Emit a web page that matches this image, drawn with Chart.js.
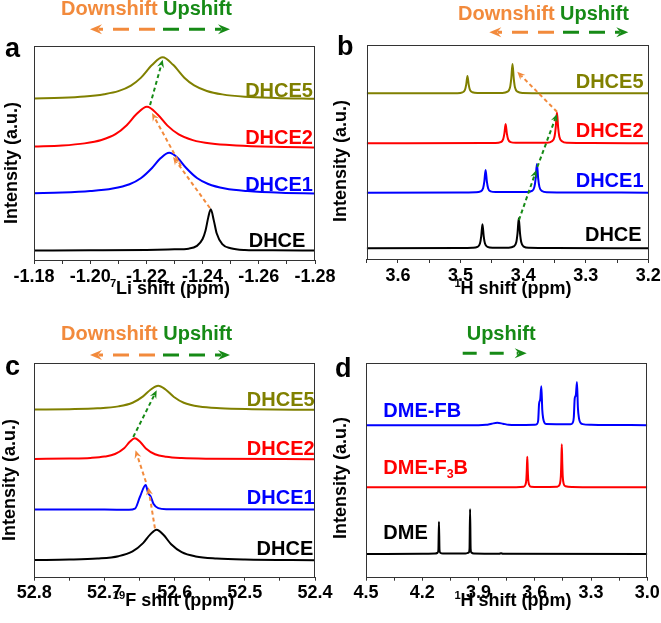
<!DOCTYPE html>
<html>
<head>
<meta charset="utf-8">
<script src="https://cdn.jsdelivr.net/npm/chart.js@4.4.0/dist/chart.umd.min.js"></script>
<style>
  html, body { margin: 0; padding: 0; background: #fff; }
  #wrap { position: relative; width: 661px; height: 623px; overflow: hidden; }
  canvas { position: absolute; }
</style>
</head>
<body>
<div id="wrap">
  <canvas id="panel-a" width="345" height="310" style="left:0;top:0"></canvas>
  <canvas id="panel-b" width="331" height="310" style="left:330px;top:0"></canvas>
  <canvas id="panel-c" width="345" height="313" style="left:0;top:310px"></canvas>
  <canvas id="panel-d" width="331" height="313" style="left:330px;top:310px"></canvas>
</div>
<script>
const FONT = 'Arial, "Liberation Sans", Helvetica, sans-serif';
const ORANGE = '#f28a3c';
const GREEN = '#168a16';
const OLIVE = '#808000';

// ---- panel a: 7Li spectra, [ppm, intensity] ----
const liDHCE  = [[-1.18,4.4],[-1.20,4.5],[-1.22,4.7],[-1.23,5.0],[-1.235,5.3],[-1.238,6.6],[-1.240,9.8],[-1.241,13.5],[-1.242,19.8],[-1.2429,23.7],[-1.244,18.4],[-1.245,12.5],[-1.247,7.4],[-1.250,5.5],[-1.255,4.7],[-1.265,4.5],[-1.28,4.4]];
const liDHCE1 = [[-1.18,31.2],[-1.19,31.5],[-1.20,32.2],[-1.208,33.4],[-1.214,35.4],[-1.218,38.2],[-1.222,43.0],[-1.225,47.5],[-1.2281,50.1],[-1.231,47.9],[-1.234,43.2],[-1.238,38.3],[-1.242,35.5],[-1.248,33.4],[-1.256,32.2],[-1.268,31.4],[-1.28,31.1]];
const liDHCE2 = [[-1.18,53.0],[-1.19,53.5],[-1.198,54.5],[-1.204,56.1],[-1.209,58.8],[-1.213,63.0],[-1.2165,68.2],[-1.2202,71.6],[-1.224,68.0],[-1.2275,62.8],[-1.2315,58.7],[-1.2365,56.0],[-1.243,54.4],[-1.252,53.5],[-1.265,52.9],[-1.28,52.6]];
const liDHCE5 = [[-1.18,75.5],[-1.19,75.8],[-1.198,76.4],[-1.205,77.5],[-1.21,78.9],[-1.2145,81.5],[-1.218,85.1],[-1.222,91.1],[-1.2258,94.7],[-1.2295,91.2],[-1.2335,85.2],[-1.237,81.6],[-1.2415,79.0],[-1.247,77.4],[-1.255,76.3],[-1.266,75.7],[-1.28,75.3]];
const liTicks = [-1.18,-1.19,-1.20,-1.21,-1.22,-1.23,-1.24,-1.25,-1.26,-1.27,-1.28];
const liTickLabels = ['-1.18','','-1.20','','-1.22','','-1.24','','-1.26','','-1.28'];

// ---- panel b: 1H spectra of DHCE series ----
const hDHCE  = [[3.65,5.0],[3.50,5.1],[3.481,5.2],[3.473,5.7],[3.469,7.2],[3.467,10.6],[3.465,16.2],[3.463,10.6],[3.461,7.2],[3.457,5.7],[3.449,5.3],[3.423,5.3],[3.415,5.9],[3.411,7.8],[3.409,12.0],[3.407,19.0],[3.405,12.0],[3.403,7.8],[3.399,5.8],[3.391,5.2],[3.35,5.1],[3.2,5.0]];
const hDHCE1 = [[3.65,31.0],[3.50,31.1],[3.476,31.2],[3.468,31.6],[3.464,33.1],[3.462,36.3],[3.460,41.6],[3.458,36.3],[3.456,33.1],[3.452,31.6],[3.444,31.3],[3.394,31.3],[3.386,31.8],[3.382,33.7],[3.380,37.7],[3.378,44.4],[3.376,37.7],[3.374,33.7],[3.370,31.8],[3.362,31.2],[3.32,31.1],[3.2,31.0]];
const hDHCE2 = [[3.65,54.1],[3.46,54.2],[3.444,54.2],[3.436,54.6],[3.432,55.9],[3.430,58.6],[3.428,63.1],[3.426,58.6],[3.424,55.9],[3.420,54.6],[3.412,54.3],[3.362,54.3],[3.354,55.0],[3.350,57.0],[3.348,61.3],[3.346,68.4],[3.344,61.3],[3.342,57.0],[3.338,55.0],[3.330,54.3],[3.29,54.2],[3.2,54.1]];
const hDHCE5 = [[3.65,77.4],[3.52,77.5],[3.505,77.5],[3.497,77.9],[3.493,79.0],[3.491,81.5],[3.489,85.5],[3.487,81.5],[3.485,79.0],[3.481,77.9],[3.473,77.6],[3.433,77.6],[3.425,78.2],[3.421,80.1],[3.419,84.3],[3.417,91.1],[3.415,84.3],[3.413,80.1],[3.409,78.2],[3.401,77.6],[3.36,77.5],[3.2,77.4]];
const hTicks = [3.65,3.6,3.55,3.5,3.45,3.4,3.35,3.3,3.25,3.2];
const hTickLabels = ['','3.6','','3.5','','3.4','','3.3','','3.2'];

// ---- panel c: 19F spectra ----
const fDHCE  = [[52.80,7.8],[52.75,8.0],[52.71,8.5],[52.68,9.6],[52.66,11.8],[52.645,15.7],[52.635,19.7],[52.6256,22.0],[52.616,19.6],[52.605,15.2],[52.59,11.5],[52.57,9.5],[52.54,8.5],[52.50,8.0],[52.40,7.7]];
const fDHCE1 = [[52.80,31.4],[52.70,31.4],[52.665,31.3],[52.6566,31.8],[52.6494,37.4],[52.6413,42.9],[52.6376,39.0],[52.6342,37.6],[52.6300,34.0],[52.6234,32.1],[52.612,31.6],[52.40,31.5]];
const fDHCE2 = [[52.80,55.1],[52.75,55.3],[52.72,55.6],[52.70,56.2],[52.685,57.4],[52.672,60.1],[52.664,63.1],[52.6566,64.8],[52.649,63.0],[52.641,60.0],[52.628,57.3],[52.612,56.1],[52.59,55.5],[52.55,55.2],[52.40,55.0]];
const fDHCE5 = [[52.80,78.2],[52.75,78.4],[52.71,78.8],[52.68,79.7],[52.66,81.4],[52.645,84.4],[52.634,87.6],[52.6234,89.4],[52.613,87.6],[52.601,84.1],[52.587,81.4],[52.565,79.6],[52.535,78.8],[52.49,78.4],[52.40,78.1]];
const fTicks = [52.8,52.75,52.7,52.65,52.6,52.55,52.5,52.45,52.4];
const fTickLabels = ['52.8','','52.7','','52.6','','52.5','','52.4'];

// ---- panel d: 1H spectra of DME series ----
const dDME   = [[4.50,10.6],[4.20,10.7],[4.13,10.8],[4.118,11.2],[4.114,12.5],[4.111,25.7],[4.108,12.5],[4.104,11.2],[4.09,10.8],[3.97,10.8],[3.952,11.3],[3.948,13.0],[3.945,31.6],[3.942,13.0],[3.938,11.3],[3.925,10.8],[3.79,10.7],[3.78,11.0],[3.77,10.7],[3.0,10.6]];
const dDMEF3B = [[4.50,41.8],[3.70,41.9],[3.66,42.1],[3.65,43.0],[3.645,45.5],[3.6425,50.2],[3.640,56.1],[3.6375,50.2],[3.635,45.5],[3.630,43.0],[3.620,42.1],[3.58,42.0],[3.48,42.1],[3.476,42.3],[3.466,43.5],[3.461,47.1],[3.4585,53.7],[3.456,62.0],[3.4535,53.7],[3.451,47.1],[3.446,43.5],[3.436,42.3],[3.40,42.0],[3.0,41.8]];
const dDMEFB = [[4.50,70.9],[3.90,70.9],[3.86,71.1],[3.83,71.6],[3.80,72.0],[3.77,71.6],[3.74,71.1],[3.70,71.0],[3.60,71.1],[3.588,71.5],[3.582,73.0],[3.577,81.0],[3.571,83.0],[3.565,89.1],[3.560,78.0],[3.555,74.0],[3.548,72.0],[3.54,71.4],[3.41,71.3],[3.398,72.0],[3.392,74.5],[3.387,83.4],[3.381,85.0],[3.375,91.1],[3.370,79.0],[3.364,74.0],[3.356,72.0],[3.345,71.4],[3.30,71.1],[3.0,70.9]];
const dTicks = [4.5,4.35,4.2,4.05,3.9,3.75,3.6,3.45,3.3,3.15,3.0];
const dTickLabels = ['4.5','','4.2','','3.9','','3.6','','3.3','','3.0'];

// curve labels: [ppm, intensity, text parts, colour]
const liLabels = [[-1.2672,79.4,[{t:'DHCE5'}],OLIVE],[-1.2672,57.6,[{t:'DHCE2'}],'#ff0000'],[-1.2672,35.8,[{t:'DHCE1'}],'#0000ff'],[-1.2665,9.5,[{t:'DHCE'}],'#000']];
const hLabels  = [[3.2618,83.5,[{t:'DHCE5'}],OLIVE],[3.2618,60.3,[{t:'DHCE2'}],'#ff0000'],[3.2618,36.9,[{t:'DHCE1'}],'#0000ff'],[3.2559,11.7,[{t:'DHCE'}],'#000']];
const fLabels  = [[52.4488,83.2,[{t:'DHCE5'}],OLIVE],[52.4488,60.5,[{t:'DHCE2'}],'#ff0000'],[52.4488,37.4,[{t:'DHCE1'}],'#0000ff'],[52.4429,13.7,[{t:'DHCE'}],'#000']];
const dLabels  = [[4.4077,78.3,[{t:'DME-FB'}],'#0000ff'],[4.4077,51.4,[{t:'DME-F'},{t:'3',s:'sub'},{t:'B'}],'#ff0000'],[4.4077,21.0,[{t:'DME'}],'#000']];

// peak-shift arrows: [from ppm, from int, to ppm, to int, colour]
const liArrows = [[-1.2426,24.3,-1.2295,48.1,ORANGE],[-1.2323,43.9,-1.2220,68.7,ORANGE],[-1.2213,72.4,-1.2258,93.6,GREEN]];
const hArrows  = [[3.4067,18.2,3.3789,41.6,GREEN],[3.3773,43.0,3.3459,67.8,GREEN],[3.3459,68.8,3.4094,87.5,ORANGE]];
const fArrows  = [[52.6281,22.6,52.6376,41.9,ORANGE],[52.6409,44.3,52.6558,59.2,ORANGE],[52.659,65.4,52.6256,87.2,GREEN]];
const dArrows  = [];

const panels = [
  { id: 'panel-a', w: 345, h: 310, area: {l: 34, r: 315, t: 46, b: 260}, min: -1.28, max: -1.18,
    ticks: liTicks, tickLabels: liTickLabels, labelAlign: 'center',
    series: [[liDHCE,'#000'],[liDHCE1,'#0000ff'],[liDHCE2,'#ff0000'],[liDHCE5,OLIVE]],
    labels: liLabels, arrows: liArrows, letter: ['a', 5, 57],
    yTitle: [12, 163], xTitle: [[{t:'7',s:'sup'},{t:'Li shift (ppm)'}], 170, 294],
    header: {down: [61, 15], up: [163, 15], y: 29.3, o: [155, 90], g: [163, 230], dash: [16, 10]} },
  { id: 'panel-b', w: 331, h: 310, area: {l: 36.7, r: 318.3, t: 45, b: 259}, min: 3.2, max: 3.65,
    ticks: hTicks, tickLabels: hTickLabels, labelAlign: 'center',
    series: [[hDHCE,'#000'],[hDHCE1,'#0000ff'],[hDHCE2,'#ff0000'],[hDHCE5,OLIVE]],
    labels: hLabels, arrows: hArrows, letter: ['b', 7, 55],
    yTitle: [11.5, 161], xTitle: [[{t:'1',s:'sup'},{t:'H shift (ppm)'}], 183, 294],
    header: {down: [128, 20], up: [230, 20], y: 32.3, o: [224, 159.3], g: [233, 298.3], dash: [16, 10]} },
  { id: 'panel-c', w: 345, h: 313, area: {l: 34.3, r: 315, t: 53, b: 266.7}, min: 52.4, max: 52.8,
    ticks: fTicks, tickLabels: fTickLabels, labelAlign: 'center',
    series: [[fDHCE,'#000'],[fDHCE1,'#0000ff'],[fDHCE2,'#ff0000'],[fDHCE5,OLIVE]],
    labels: fLabels, arrows: fArrows, letter: ['c', 5, 65],
    yTitle: [10, 170], xTitle: [[{t:'19',s:'sup'},{t:'F shift (ppm)'}], 173.5, 296],
    header: {down: [61, 30], up: [163.3, 30], y: 45, o: [155, 90], g: [163, 230], dash: [16, 10]} },
  { id: 'panel-d', w: 331, h: 313, area: {l: 36, r: 317.3, t: 53, b: 266.7}, min: 3.0, max: 4.5,
    ticks: dTicks, tickLabels: dTickLabels, labelAlign: 'left',
    series: [[dDME,'#000'],[dDMEF3B,'#ff0000'],[dDMEFB,'#0000ff']],
    labels: dLabels, arrows: dArrows, letter: ['d', 5, 67],
    yTitle: [11.5, 168], xTitle: [[{t:'1',s:'sup'},{t:'H shift (ppm)'}], 183, 296],
    header: {down: null, up: [136.7, 29.5], y: 43.3, o: null, g: [132.7, 196.7], dash: [14, 13]} }
];

function drawArrow(ctx, x1, y1, x2, y2, color, width, dash, len, half) {
  const ang = Math.atan2(y2 - y1, x2 - x1), c = Math.cos(ang), s = Math.sin(ang);
  ctx.save();
  ctx.strokeStyle = color;
  ctx.fillStyle = color;
  ctx.lineWidth = width;
  ctx.setLineDash(dash);
  ctx.beginPath();
  ctx.moveTo(x1, y1);
  ctx.lineTo(x2 - c * len * 0.7, y2 - s * len * 0.7);
  ctx.stroke();
  ctx.setLineDash([]);
  ctx.beginPath();
  ctx.moveTo(x2, y2);
  ctx.lineTo(x2 - c * len - s * half, y2 - s * len + c * half);
  ctx.lineTo(x2 - c * len * 0.65, y2 - s * len * 0.65);
  ctx.lineTo(x2 - c * len + s * half, y2 - s * len - c * half);
  ctx.closePath();
  ctx.fill();
  ctx.restore();
}

// text with superscript / subscript pieces; y is the baseline
function drawRich(ctx, parts, x, y, size, color, align) {
  const fonts = parts.map(p => 'bold ' + (p.s ? size * 0.62 : size) + 'px ' + FONT);
  let total = 0;
  const widths = parts.map((p, i) => {
    ctx.font = fonts[i];
    const w = ctx.measureText(p.t).width;
    total += w;
    return w;
  });
  let cx = align === 'center' ? x - total / 2 : (align === 'right' ? x - total : x);
  ctx.save();
  ctx.fillStyle = color;
  ctx.textAlign = 'left';
  ctx.textBaseline = 'alphabetic';
  parts.forEach((p, i) => {
    ctx.font = fonts[i];
    const dy = p.s === 'sup' ? -size * 0.38 : (p.s === 'sub' ? size * 0.22 : 0);
    ctx.fillText(p.t, cx, y + dy);
    cx += widths[i];
  });
  ctx.restore();
}

function makeDecor(p) {
  return {
    id: 'decor',
    afterDatasetsDraw(chart) {
      const ctx = chart.ctx, xs = chart.scales.x, ys = chart.scales.y;
      p.arrows.forEach(a => {
        drawArrow(ctx, xs.getPixelForValue(a[0]), ys.getPixelForValue(a[1]),
          xs.getPixelForValue(a[2]), ys.getPixelForValue(a[3]), a[4], 2, [4, 3], 8, 3.5);
      });
      p.labels.forEach(l => {
        drawRich(ctx, l[2], xs.getPixelForValue(l[0]), ys.getPixelForValue(l[1]) + 20 * 0.36, 20, l[3], p.labelAlign);
      });
    },
    afterDraw(chart) {
      const ctx = chart.ctx, a = chart.chartArea;
      // frame
      ctx.save();
      ctx.strokeStyle = '#333';
      ctx.lineWidth = 1;
      ctx.strokeRect(Math.round(a.left) + 0.5, Math.round(a.top) + 0.5,
        Math.round(a.right - a.left) - 1, Math.round(a.bottom - a.top));
      ctx.restore();
      // panel letter
      drawRich(ctx, [{t: p.letter[0]}], p.letter[1], p.letter[2], 27, '#000', 'left');
      // y title
      ctx.save();
      ctx.translate(p.yTitle[0], p.yTitle[1]);
      ctx.rotate(-Math.PI / 2);
      ctx.font = 'bold 18px ' + FONT;
      ctx.fillStyle = '#000';
      ctx.textAlign = 'center';
      ctx.textBaseline = 'middle';
      ctx.fillText('Intensity (a.u.)', 0, 0);
      ctx.restore();
      // x title
      drawRich(ctx, p.xTitle[0], p.xTitle[1], p.xTitle[2], 18, '#000', 'center');
      // shift header
      const hd = p.header;
      if (hd.down) drawRich(ctx, [{t: 'Downshift'}], hd.down[0], hd.down[1], 20, ORANGE, 'left');
      drawRich(ctx, [{t: 'Upshift'}], hd.up[0], hd.up[1], 20, GREEN, 'left');
      if (hd.o) drawArrow(ctx, hd.o[0], hd.y, hd.o[1], hd.y, ORANGE, 3, hd.dash, 12, 5);
      drawArrow(ctx, hd.g[0], hd.y, hd.g[1], hd.y, GREEN, 3, hd.dash, 12, 5);
    }
  };
}

panels.forEach(p => {
  new Chart(document.getElementById(p.id), {
    type: 'line',
    data: {
      datasets: p.series.map(s => ({
        data: s[0].map(pt => ({x: pt[0], y: pt[1]})),
        borderColor: s[1],
        borderWidth: 2,
        pointRadius: 0,
        fill: false,
        cubicInterpolationMode: 'monotone'
      }))
    },
    options: {
      responsive: false,
      animation: false,
      events: [],
      layout: { padding: { left: p.area.l, right: p.w - p.area.r, top: p.area.t, bottom: p.h - p.area.b - 30 } },
      plugins: { legend: { display: false }, tooltip: { enabled: false } },
      scales: {
        x: {
          type: 'linear',
          reverse: true,
          min: p.min,
          max: p.max,
          afterBuildTicks: ax => { ax.ticks = p.ticks.map(v => ({value: v})); },
          afterFit: ax => { ax.height = 30; ax.paddingLeft = 0; ax.paddingRight = 0; },
          ticks: {
            autoSkip: false,
            maxRotation: 0,
            minRotation: 0,
            padding: 2,
            color: '#000',
            font: { family: FONT, size: 18, weight: 'bold' },
            callback: (v, i) => p.tickLabels[i]
          },
          grid: { display: true, drawOnChartArea: false, drawTicks: true, tickLength: 4, color: '#333' },
          border: { display: false }
        },
        y: { display: false, min: 0, max: 100 }
      }
    },
    plugins: [makeDecor(p)]
  });
});
</script>
</body>
</html>
